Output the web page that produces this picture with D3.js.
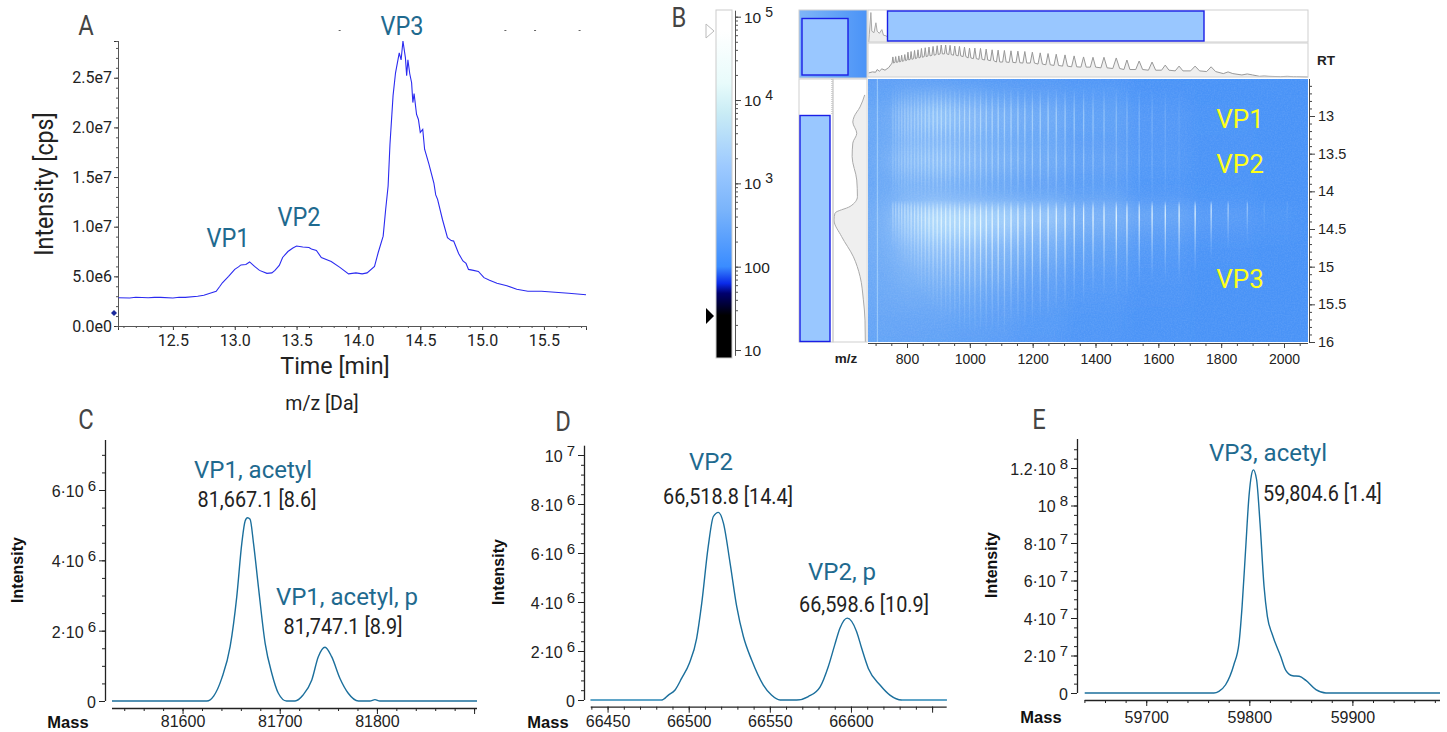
<!DOCTYPE html>
<html>
<head>
<meta charset="utf-8">
<script src="https://cdn.jsdelivr.net/npm/d3@7"></script>
<style>
  html, body { margin: 0; padding: 0; background: #fff; }
  svg { display: block; }
  .narrow { font-family: Roboto, sans-serif; }
  .plain { font-family: "Liberation Sans", Arial, sans-serif; }
</style>
</head>
<body>
<svg id="fig" width="1447" height="732"></svg>
<script>
// Panel A - total ion chromatogram
const ticTime = [12.06,12.15,12.2,12.3,12.35,12.4,12.5,12.55,12.6,12.7,12.75,12.8,12.85,12.88,12.9,12.95,13.0,13.03,13.05,13.09,13.12,13.16,13.2,13.26,13.3,13.325,13.36,13.387,13.43,13.47,13.5,13.55,13.6,13.62,13.66,13.7,13.78,13.85,13.92,13.98,14.03,14.07,14.13,14.16,14.2,14.22,14.24,14.255,14.28,14.3,14.33,14.345,14.36,14.38,14.39,14.40,14.415,14.43,14.44,14.45,14.47,14.485,14.5,14.52,14.535,14.57,14.61,14.625,14.64,14.68,14.72,14.75,14.77,14.81,14.845,14.87,14.89,14.93,14.97,15.015,15.06,15.12,15.2,15.28,15.37,15.48,15.59,15.7,15.84];
const ticIntensity = [2.85,2.82,2.9,2.85,2.88,2.88,2.82,2.9,2.88,3.0,3.1,3.3,3.5,4.0,4.35,5.0,5.7,5.95,6.15,6.2,6.45,6.0,5.6,5.3,5.35,5.6,6.1,6.9,7.5,7.85,8.05,7.95,7.9,7.75,7.6,6.9,6.5,5.9,5.25,5.35,5.25,5.35,6.0,7.4,9.05,11.7,14.1,18.3,23.2,25.5,27.5,26.8,28.7,27.0,25.2,26.8,25.4,24.5,22.5,23.4,21.3,20.8,19.5,19.8,17.8,16.3,14.4,13.2,12.75,10.7,8.9,8.6,8.55,7.3,6.55,6.3,5.7,5.6,5.5,4.87,4.6,4.3,4.05,3.7,3.5,3.5,3.4,3.3,3.15];
const ticYTicks = [0,5,10,15,20,25];
const ticYLabels = ["0.0e0","5.0e6","1.0e7","1.5e7","2.0e7","2.5e7"];
const ticXTicks = [12.5,13,13.5,14,14.5,15,15.5];
const ticStray = [13.84,15.18,15.42,15.78];

// Panel B - m/z against RT map (0 = plain blue, 1 = white)
const mapRT = [12.5,12.7,13.0,13.3,13.6,13.9,14.15,14.3,14.5,14.8,15.1,15.4,15.7,16];
const mapMz = [680,740,800,900,1000,1100,1200,1400,1600,1800,2000,2080];
const mapCells = [
  [.12,.12,.12,.10,.08,.07,.05,.03,0,0,0,0],
  [.15,.15,.22,.24,.20,.15,.12,.08,.02,0,0,0],
  [.20,.22,.40,.48,.40,.30,.24,.15,.05,.01,0,0],
  [.20,.22,.35,.36,.32,.25,.20,.12,.05,.01,0,0],
  [.20,.28,.42,.46,.38,.30,.24,.16,.06,.01,0,0],
  [.20,.22,.30,.30,.26,.20,.16,.10,.04,.01,0,0],
  [.22,.26,.38,.40,.35,.30,.25,.18,.07,.02,0,0],
  [.24,.34,.56,.70,.68,.62,.54,.36,.22,.10,.04,0],
  [.24,.32,.50,.62,.60,.50,.40,.24,.12,.05,.02,0],
  [.24,.28,.40,.45,.42,.34,.26,.15,.06,.01,0,0],
  [.22,.24,.32,.34,.30,.24,.16,.09,.03,0,0,0],
  [.20,.22,.24,.24,.20,.16,.11,.06,.02,0,0,0],
  [.18,.18,.18,.18,.15,.12,.08,.04,.01,0,0,0],
  [.17,.17,.16,.15,.12,.10,.07,.03,.01,0,0,0]
];
const mzPeaks = [755,764,774,783,793,803,813,824,835,846,858,870,883,896,909,923,937,952,967,983,999,1016,1034,1052,1071,1090,1110,1131,1153,1175,1199,1224,1249,1275,1303,1332,1362,1392,1427,1466,1500,1539,1580,1622,1666,1717,1768,1822,1883,1937,2010];
const peakTop = [59,60,62,64,66,73,75,78,80,84,86,88,90,92,94,94,93,91,90,88,85,85,84,82,80,79,78,77,76,75,73,71,69,67,65,62,59,58,58,56,50,47,44,35,32,32,30,15,9,3,2];
const peakValley = [41,43,44,46,48,50,52,54,56,58,60,62,64,66,68,68,66,64,62,60,56,54,52,50,48,44,44,43,42,41,41,38,36,34,32,30,29,29,27,25,22,22,20,20,18,18,16,10,6,2,1];
const earlyStreak = [.2,.2,.25,.25,.3,.3,.3,.3,.35,.35,.4,.4,.45,.45,.45,.45,.45,.45,.45,.45,.45,.45,.45,.45,.45,.45,.45,.45,.45,.45,.45,.45,.45,.45,.42,.42,.4,.36,.34,.3,.26,.24,.2,.15,.08,0,0,0,0,0,0];
const lateStreak = [.35,.35,.4,.4,.45,.45,.5,.5,.55,.55,.6,.6,.65,.65,.7,.7,.75,.75,.75,.8,.8,.8,.85,.85,.85,.85,.85,.85,.85,.85,.85,.85,.85,.85,.85,.85,.85,.85,.85,.9,.85,.8,.85,.8,.85,.85,.75,.5,.4,.12,.08];
const lateEnd = [14.8,14.8,14.85,14.9,15,15,15.1,15.2,15.3,15.4,15.4,15.5,15.6,15.6,15.7,15.7,15.8,15.8,15.9,15.9,15.9,15.9,15.9,15.9,15.9,15.9,15.9,15.8,15.8,15.8,15.8,15.7,15.7,15.6,15.6,15.5,15.5,15.4,15.4,15.4,15.4,15.3,15.2,15.2,15.2,15.1,14.9,14.8,14.7,14.7,14.6];
const lowMzTrace = [[680,25],[685,95],[688,35],[695,30],[701,62],[705,35],[712,28],[720,40],[725,22],[733,20],[740,15]];
const specTail = [[678,12],[690,15],[700,14],[705,22],[712,17],[720,24],[730,20],[742,28]];
const specEnd = [[2040,1],[2076,0]];
const rtProfileRT = [12.72,12.88,13.01,13.08,13.23,13.36,13.54,13.85,14.07,14.2,14.29,14.38,14.6,14.87,15.13,15.44,15.71,16];
const rtProfileValue = [4,18,36,40,28,40,42,28,26,48,94,97,74,38,18,8,3,2];
const cbStopValue = [8,26,48,63,100,480,1560,7000,16000,69000,120000];
const cbStopColor = ["#000000","#000000","#00006e","#0a2ae8","#3a8cff","#7ab4fb","#9cc9ff","#c9ecf5","#e8fbfb","#ffffff","#ffffff"];
const cbLabels = [[100000,"10","5"],[10000,"10","4"],[1000,"10","3"],[100,"100",""],[10,"10",""]];
const rtTicks = [13,13.5,14,14.5,15,15.5,16];
const mzTicks = [800,1000,1200,1400,1600,1800,2000];

// Panels C, D, E - deconvoluted spectra
const massC = [81527.4,81625,81632,81640.4,81649,81655.8,81661,81664.4,81666.8,81669.5,81673,81678,81685,81691.8,81698.6,81707,81715.8,81724,81733,81739.7,81746.6,81753.4,81762,81770.5,81781,81792.8,81798,81803,81903];
const intensityC = [0,0,.14,.65,1.55,2.97,4.49,5.12,5.21,5.17,4.49,3.26,1.64,.79,.22,0,0,.17,.6,1.26,1.53,1.26,.64,.22,0,0,.04,0,0];
const massD = [66439.6,66483.4,66487.5,66491.6,66495.7,66500.4,66504.9,66508,66512,66515.2,66518.3,66521.4,66525.5,66529.6,66533.7,66538.8,66546,66551,66556.3,66566.5,66573.7,66581,66586,66590,66593.2,66597.7,66603.5,66606.6,66610.7,66617.9,66624,66631.2,66659];
const intensityD = [0,0,.2,.41,.89,1.5,2.52,3.93,6.25,7.49,7.66,7.22,5.59,3.81,2.59,1.63,.61,.2,0,0,.14,.54,1.36,2.25,2.93,3.34,2.79,2.11,1.29,.61,.2,0,0];
const massE = [59640.3,59765.6,59770.5,59777,59785,59790,59793,59796.4,59799.7,59802,59803.9,59807,59810.4,59814.3,59817.5,59822.4,59830.5,59835.4,59842,59848.4,59854.9,59864.6,59874.4,59985];
const intensityE = [0,0,.9,4.4,15.1,26.6,46.2,76.4,105,116,119,114,90.6,56.8,40.9,31.1,19.5,12.1,9.2,8.9,6.7,1.8,0,0];

const svg = d3.select("#fig");
const defs = svg.append("defs");
const tealText = "#1f6a8f";
const tealLine = "#1b6f9c";

function styleAxis(g, color) {
    g.selectAll("path, line").attr("stroke", color).attr("stroke-width", 1);
    g.selectAll("text").attr("fill", "#222");
}

// the reference type is a condensed face, Roboto gets squeezed to its width
function squeeze(sel, k) {
    sel.attr("textLength", sel.node().getComputedTextLength() * k)
        .attr("lengthAdjust", "spacingAndGlyphs");
    return sel;
}

function addText(txt, x, y, size, fill, cls, anchor) {
    return svg.append("text")
        .attr("class", cls)
        .attr("x", x)
        .attr("y", y)
        .attr("font-size", size)
        .attr("fill", fill)
        .attr("text-anchor", anchor || "middle")
        .text(txt);
}

// Panel letters
[["A",86,35],["B",679,27],["C",86,429],["D",563,431],["E",1039,429]].forEach(d => {
    squeeze(addText(d[0], d[1], d[2], 27, "#444", "narrow"), 0.88);
});

// ---------- Panel A ----------
const xA = d3.scaleLinear().domain([12.056, 15.84]).range([118, 586]);
const yA = d3.scaleLinear().domain([0, 28.7]).range([326, 41]);

const axABottom = svg.append("g").attr("transform", "translate(0,326)")
    .call(d3.axisBottom(xA).tickValues(ticXTicks).tickSize(4).tickFormat(d3.format(".1f")));
axABottom.selectAll("text").attr("class", "narrow").attr("font-size", 16).attr("dy", "0.8em");
styleAxis(axABottom, "#333");
const axABottomMinor = svg.append("g").attr("transform", "translate(0,326)")
    .call(d3.axisBottom(xA).tickValues(d3.range(12.1, 15.85, 0.1)).tickSize(2).tickFormat(""));
styleAxis(axABottomMinor, "#555");

const axALeft = svg.append("g").attr("transform", "translate(118,0)")
    .call(d3.axisLeft(yA).tickValues(ticYTicks).tickSize(4).tickFormat((d, i) => ticYLabels[i]));
axALeft.selectAll("text").attr("class", "narrow").attr("font-size", 16).attr("x", -6);
styleAxis(axALeft, "#333");
const axALeftMinor = svg.append("g").attr("transform", "translate(118,0)")
    .call(d3.axisLeft(yA).tickValues(d3.range(0, 28.5, 1)).tickSize(2).tickFormat(""));
styleAxis(axALeftMinor, "#555");

svg.append("path")
    .datum(ticTime.map((t, i) => [t, ticIntensity[i]]))
    .attr("d", d3.line().x(d => xA(d[0])).y(d => yA(d[1])))
    .attr("fill", "none")
    .attr("stroke", "#2b2bf0")
    .attr("stroke-width", 1.1);

svg.append("path")
    .attr("transform", `translate(114,${yA(1.3)})`)
    .attr("d", "M -3 0 L 0 -3 L 3 0 L 0 3 Z")
    .attr("fill", "#1a2a9c");

svg.selectAll(".stray").data(ticStray).enter().append("rect")
    .attr("class", "stray")
    .attr("x", d => xA(d))
    .attr("y", 30)
    .attr("width", 2)
    .attr("height", 1)
    .attr("fill", "#666");

squeeze(addText("VP1", 228, 247, 25, tealText, "narrow"), 0.94);
squeeze(addText("VP2", 299, 226, 25, tealText, "narrow"), 0.94);
squeeze(addText("VP3", 402, 35, 25, tealText, "narrow"), 0.94);
squeeze(addText("Time [min]", 335, 374, 24, "#222", "narrow"), 0.97);
squeeze(addText("m/z [Da]", 322, 410, 19.5, "#222", "narrow"), 1);
squeeze(svg.append("text")
    .attr("class", "narrow")
    .attr("transform", "translate(53,184) rotate(-90)")
    .attr("text-anchor", "middle")
    .attr("font-size", 25)
    .attr("fill", "#222")
    .text("Intensity [cps]"), 0.93);

// ---------- Panel B colour bar ----------
const cbY = d3.scaleLog().domain([10, 100000]).range([350, 16.7]);
const cbTop = 10, cbBottom = 358;
const cbGrad = defs.append("linearGradient")
    .attr("id", "cbGrad")
    .attr("gradientUnits", "userSpaceOnUse")
    .attr("x1", 0).attr("x2", 0)
    .attr("y1", cbBottom).attr("y2", cbTop);
cbStopValue.forEach((v, i) => {
    cbGrad.append("stop")
        .attr("offset", (cbBottom - cbY(v)) / (cbBottom - cbTop))
        .attr("stop-color", cbStopColor[i]);
});
svg.append("rect")
    .attr("x", 716).attr("y", cbTop)
    .attr("width", 16).attr("height", cbBottom - cbTop)
    .attr("fill", "url(#cbGrad)")
    .attr("stroke", "#ccc");

const cbMinor = [];
[10, 100, 1000, 10000].forEach(dec => {
    d3.range(1, 10).forEach(m => cbMinor.push(dec * m));
});
cbMinor.push(100000);
const axCb = svg.append("g").attr("transform", "translate(735,0)")
    .call(d3.axisRight(cbY).tickValues(cbMinor).tickSize(3).tickFormat(""));
styleAxis(axCb, "#555");
const axCbMajor = svg.append("g").attr("transform", "translate(735,0)")
    .call(d3.axisRight(cbY).tickValues(cbLabels.map(d => d[0])).tickSize(6).tickFormat(""));
styleAxis(axCbMajor, "#444");
axCb.select(".domain").attr("d", `M 0.5 ${cbY(8.5)} V ${cbY(100000) - 6}`);
axCbMajor.select(".domain").remove();

cbLabels.forEach(d => {
    const t = addText(d[1], 744, cbY(d[0]) + 6, 15.5, "#222", "plain", "start");
    if (d[2]) {
        t.append("tspan").attr("dx", 4).attr("dy", -6).attr("font-size", 14).text(d[2]);
    }
});

svg.append("path").attr("d", "M 706 24 L 714 31 L 706 38 Z")
    .attr("fill", "#fff").attr("stroke", "#bbb");
svg.append("path").attr("d", "M 706 308 L 714 316 L 706 324 Z").attr("fill", "#000");

// ---------- Panel B map ----------
const xMap = d3.scaleLinear().domain([800, 2000]).range([907, 1284]);
const yMap = d3.scaleLinear().domain([13, 16]).range([116, 342]);
const mapLeft = 868, mapRight = 1308, mapTop = 79, mapBottom = 342;

const mapColor = d3.scaleLinear()
    .domain([0, .2, .4, .6, .8, 1])
    .range(["#4a93f7", "#69a7f6", "#86baf8", "#a5d2fb", "#cdedfc", "#f5fdff"]);

defs.append("clipPath").attr("id", "mapClip").append("rect")
    .attr("x", mapLeft).attr("y", mapTop)
    .attr("width", mapRight - mapLeft).attr("height", mapBottom - mapTop);
defs.append("filter").attr("id", "mapBlur")
    .attr("filterUnits", "userSpaceOnUse")
    .attr("x", mapLeft - 40).attr("y", mapTop - 40).attr("width", 520).attr("height", 340)
    .append("feGaussianBlur").attr("stdDeviation", 8);

// pixel grain of the instrument image
const grain = defs.append("filter").attr("id", "mapGrain")
    .attr("filterUnits", "userSpaceOnUse")
    .attr("x", mapLeft).attr("y", mapTop).attr("width", mapRight - mapLeft).attr("height", mapBottom - mapTop);
grain.append("feTurbulence")
    .attr("type", "fractalNoise").attr("baseFrequency", 0.7).attr("numOctaves", 2).attr("seed", 4);
grain.append("feColorMatrix")
    .attr("values", "0 0 0 0 1  0 0 0 0 1  0 0 0 0 1  0 0 0 0.5 -0.16");

function cellEdges(vals) {
    const mids = vals.slice(1).map((v, i) => (v + vals[i]) / 2);
    return [vals[0] - (vals[1] - vals[0]) * 2].concat(mids, [vals[vals.length - 1] + (vals[vals.length - 1] - vals[vals.length - 2]) * 2]);
}
const rtEdges = cellEdges(mapRT);
const mzEdges = cellEdges(mapMz);
const cells = [];
mapCells.forEach((row, r) => row.forEach((v, c) => cells.push({ r, c, v })));

const mapG = svg.append("g").attr("clip-path", "url(#mapClip)");
mapG.append("rect")
    .attr("x", mapLeft).attr("y", mapTop)
    .attr("width", mapRight - mapLeft).attr("height", mapBottom - mapTop)
    .attr("fill", mapColor(0));
mapG.append("g").attr("filter", "url(#mapBlur)")
    .selectAll("rect").data(cells).enter().append("rect")
    .attr("x", d => xMap(mzEdges[d.c]))
    .attr("y", d => yMap(rtEdges[d.r]))
    .attr("width", d => xMap(mzEdges[d.c + 1]) - xMap(mzEdges[d.c]) + 0.5)
    .attr("height", d => yMap(rtEdges[d.r + 1]) - yMap(rtEdges[d.r]) + 0.5)
    .attr("fill", d => mapColor(d.v));

// streak fades along RT
const earlyGrad = defs.append("linearGradient").attr("id", "earlyGrad").attr("x1", 0).attr("x2", 0).attr("y1", 0).attr("y2", 1);
[[0, 0], [.22, .9], [.36, 1], [.5, .6], [.65, .9], [.8, .6], [1, .05]].forEach(s => {
    earlyGrad.append("stop").attr("offset", s[0]).attr("stop-color", "#e6fbff").attr("stop-opacity", s[1]);
});
const lateGrad = defs.append("linearGradient").attr("id", "lateGrad").attr("x1", 0).attr("x2", 0).attr("y1", 0).attr("y2", 1);
[[0, 0], [.08, .8], [.18, 1], [.4, .65], [.7, .25], [1, 0]].forEach(s => {
    lateGrad.append("stop").attr("offset", s[0]).attr("stop-color", "#f0fdff").attr("stop-opacity", s[1]);
});

const streaks = mzPeaks.map((mz, i) => ({ mz, early: earlyStreak[i], late: lateStreak[i], end: lateEnd[i] }));
mapG.selectAll(".early").data(streaks.filter(d => d.early > 0)).enter().append("rect")
    .attr("class", "early")
    .attr("x", d => xMap(d.mz) - 0.6)
    .attr("y", yMap(12.62))
    .attr("width", 1.3)
    .attr("height", yMap(14.1) - yMap(12.62))
    .attr("fill", "url(#earlyGrad)")
    .attr("opacity", d => d.early);
mapG.selectAll(".late").data(streaks).enter().append("rect")
    .attr("class", "late")
    .attr("x", d => xMap(d.mz) - 0.6)
    .attr("y", yMap(14.12))
    .attr("width", 1.3)
    .attr("height", d => yMap(d.end) - yMap(14.12))
    .attr("fill", "url(#lateGrad)")
    .attr("opacity", d => d.late);
mapG.append("rect")
    .attr("x", xMap(704))
    .attr("y", mapTop)
    .attr("width", 1.2)
    .attr("height", mapBottom - mapTop)
    .attr("fill", "#cfeeff")
    .attr("opacity", .45);
mapG.append("rect")
    .attr("x", mapLeft).attr("y", mapTop)
    .attr("width", mapRight - mapLeft).attr("height", mapBottom - mapTop)
    .attr("filter", "url(#mapGrain)")
    .attr("opacity", .3);

addText("VP1", 1240, 128, 26, "#ffff1a", "narrow");
addText("VP2", 1240, 173, 26, "#ffff1a", "narrow");
addText("VP3", 1240, 288, 26, "#ffff1a", "narrow");

// map axes
const axMz = svg.append("g").attr("transform", `translate(0,${mapBottom + 1})`)
    .call(d3.axisBottom(xMap).tickValues(mzTicks).tickSize(5).tickFormat(d3.format("d")));
axMz.selectAll("text").attr("class", "plain").attr("font-size", 14).attr("dy", "0.9em");
styleAxis(axMz, "#444");
const axMzMinor = svg.append("g").attr("transform", `translate(0,${mapBottom + 1})`)
    .call(d3.axisBottom(xMap).tickValues(d3.range(700, 2070, 50)).tickSize(3).tickFormat(""));
styleAxis(axMzMinor, "#444");
axMz.select(".domain").attr("d", `M ${mapLeft} 0.5 H ${mapRight}`);
axMzMinor.select(".domain").remove();

const axRt = svg.append("g").attr("transform", `translate(${mapRight + 1},0)`)
    .call(d3.axisRight(yMap).tickValues(rtTicks).tickSize(6).tickFormat(d => d));
axRt.selectAll("text").attr("class", "plain").attr("font-size", 14.5).attr("x", 9);
styleAxis(axRt, "#444");
const axRtMinor = svg.append("g").attr("transform", `translate(${mapRight + 1},0)`)
    .call(d3.axisRight(yMap).tickValues(d3.range(12.6, 16, 0.1)).tickSize(3).tickFormat(""));
styleAxis(axRtMinor, "#444");
axRt.select(".domain").attr("d", `M 0.5 ${mapTop} V ${mapBottom}`);
axRtMinor.select(".domain").remove();

addText("m/z", 846, 363, 13.5, "#222", "plain").attr("font-weight", "bold");
addText("RT", 1326, 65, 13.5, "#222", "plain").attr("font-weight", "bold");

// ---------- Panel B side panels ----------
const panelStroke = "#cfcfcf";
function frame(x, y, w, h) {
    return svg.append("rect").attr("x", x).attr("y", y).attr("width", w).attr("height", h)
        .attr("fill", "none").attr("stroke", panelStroke).attr("stroke-width", 1);
}
function selection(x, y, w, h) {
    return svg.append("rect").attr("x", x).attr("y", y).attr("width", w).attr("height", h)
        .attr("fill", "#99c7ff").attr("stroke", "#1a1ee6").attr("stroke-width", 1.4);
}

// overview corner
defs.append("linearGradient").attr("id", "cornerGrad").attr("x1", 0).attr("x2", 1).attr("y1", 0).attr("y2", 0)
    .selectAll("stop").data([["0", "#7fb5f8"], ["1", "#4a93f7"]]).enter().append("stop")
    .attr("offset", d => d[0]).attr("stop-color", d => d[1]);
svg.append("rect").attr("x", 799).attr("y", 10).attr("width", 68).attr("height", 68).attr("fill", "url(#cornerGrad)");
frame(799, 10, 68, 68);
selection(802, 18.5, 46, 56.5);

// upper m/z trace, mostly hidden behind the selection box
const yTrace = d3.scaleLinear().domain([0, 100]).range([42, 11]);
svg.append("path")
    .datum([[678, 0]].concat(lowMzTrace, [[742, 0]]))
    .attr("d", d3.line().x(d => xMap(d[0])).y(d => yTrace(d[1])))
    .attr("fill", "#eee")
    .attr("stroke", "#aaa");
frame(868, 10, 440, 32);
selection(887.5, 11, 316.5, 30);

// lower m/z trace
const ySpec = d3.scaleLinear().domain([0, 100]).range([77, 43]);
const specPts = specTail.slice();
mzPeaks.forEach((mz, i) => {
    const gap = i > 0 ? mz - mzPeaks[i - 1] : 9;
    specPts.push([mz - gap * 0.28, peakValley[i]]);
    specPts.push([mz, peakTop[i]]);
    specPts.push([mz + gap * 0.28, peakValley[i]]);
});
specPts.push(...specEnd);
svg.append("path")
    .datum(specPts)
    .attr("d", d3.area().x(d => xMap(d[0])).y0(77).y1(d => ySpec(d[1])))
    .attr("fill", "#efefef");
svg.append("path")
    .datum(specPts)
    .attr("d", d3.line().x(d => xMap(d[0])).y(d => ySpec(d[1])))
    .attr("fill", "none")
    .attr("stroke", "#999");
frame(868, 43, 440, 34);

// RT side trace
frame(799, 79, 34, 263);
selection(800, 115.5, 30, 226);
svg.append("line").attr("x1", 832).attr("x2", 832).attr("y1", 79).attr("y2", 115)
    .attr("stroke", "#aaa").attr("stroke-dasharray", "1,1");

const xProfile = d3.scaleLinear().domain([0, 100]).range([866, 833]);
const profile = rtProfileRT.map((rt, i) => [rt, rtProfileValue[i]]);
svg.append("path")
    .datum(profile)
    .attr("d", d3.area().curve(d3.curveMonotoneY).y(d => yMap(d[0])).x0(866).x1(d => xProfile(d[1])))
    .attr("fill", "#efefef");
svg.append("path")
    .datum(profile)
    .attr("d", d3.line().curve(d3.curveMonotoneY).y(d => yMap(d[0])).x(d => xProfile(d[1])))
    .attr("fill", "none")
    .attr("stroke", "#aaa");
frame(833, 79, 34, 263);

// ---------- Panels C, D, E ----------
function superLabel(sel, labelFor) {
    sel.each(function(d) {
        const parts = labelFor(d);
        const t = d3.select(this).text(parts[0]);
        if (parts[1]) {
            t.append("tspan").attr("dx", 4).attr("dy", -6).attr("font-size", 15).text(parts[1]);
        }
    });
}

function drawSpectrum(c) {
    const x = d3.scaleLinear().domain(c.xDomain).range(c.xRange);
    const y = d3.scaleLinear().domain([0, c.yUnit]).range([c.y0, c.yAtUnit]);

    const left = svg.append("g").attr("transform", `translate(${c.axisX},0)`)
        .call(d3.axisLeft(y).tickValues(c.yTicks).tickSize(6).tickFormat(""));
    styleAxis(left, "#222");
    left.select(".domain").attr("d", `M 0.5 ${c.y0} V ${c.yTop}`).attr("stroke-width", 1.3);
    left.selectAll(".tick text")
        .attr("class", "plain")
        .attr("font-size", 16)
        .attr("text-anchor", "end")
        .attr("x", -9)
        .attr("dy", "0.4em");
    superLabel(left.selectAll(".tick text"), c.yLabel);

    const leftMinor = svg.append("g").attr("transform", `translate(${c.axisX},0)`)
        .call(d3.axisLeft(y).tickValues(c.yMinor).tickSize(3).tickFormat(""));
    styleAxis(leftMinor, "#222");
    leftMinor.select(".domain").remove();

    const bottom = svg.append("g").attr("transform", `translate(0,${c.axisY})`)
        .call(d3.axisBottom(x).tickValues(c.xTicks).tickSize(6)
            .tickFormat(d => c.xLabels.includes(d) ? d3.format("d")(d) : ""));
    bottom.selectAll("text").attr("class", "plain").attr("font-size", 16).attr("dy", c.labelDy);
    styleAxis(bottom, "#222");
    bottom.select(".domain").attr("d", `M ${c.xRange[0]} 0.5 H ${c.xRange[1]}`).attr("stroke-width", 1.3);
    const bottomMinor = svg.append("g").attr("transform", `translate(0,${c.axisY})`)
        .call(d3.axisBottom(x).tickValues(c.xMinor).tickSize(3).tickFormat(""));
    styleAxis(bottomMinor, "#222");
    bottomMinor.select(".domain").remove();

    svg.append("path")
        .datum(c.mass.map((m, i) => [m, c.values[i]]))
        .attr("d", d3.line().curve(d3.curveMonotoneX).x(d => x(d[0])).y(d => y(d[1])))
        .attr("fill", "none")
        .attr("stroke", tealLine)
        .attr("stroke-width", 1.4);
    if (c.flatColor) {
        svg.append("line")
            .attr("x1", c.xRange[0]).attr("x2", x(c.mass[1]))
            .attr("y1", y(0)).attr("y2", y(0))
            .attr("stroke", c.flatColor).attr("stroke-width", 1.8);
        svg.append("line")
            .attr("x1", x(c.mass[c.mass.length - 2])).attr("x2", c.xRange[1])
            .attr("y1", y(0)).attr("y2", y(0))
            .attr("stroke", c.flatColor).attr("stroke-width", 1.8);
    }

    svg.append("text")
        .attr("class", "plain")
        .attr("transform", `translate(${c.titleX},${c.titleY}) rotate(-90)`)
        .attr("text-anchor", "middle")
        .attr("font-size", 16)
        .attr("font-weight", "bold")
        .attr("fill", "#111")
        .text("Intensity");
    addText("Mass", c.massX, c.massY, 16.5, "#111", "plain").attr("font-weight", "bold");

    c.labels.forEach(l => {
        const isName = l[3] === "name";
        const t = addText(l[0], l[1], l[2], isName ? 24 : 22, isName ? tealText : "#222", "narrow", l[4]);
        if (!isName) squeeze(t, 0.9);
    });
}

drawSpectrum({
    mass: massC, values: intensityC,
    xDomain: [81527.4, 81903], xRange: [112, 477],
    yUnit: 6, y0: 701, yAtUnit: 490, yTop: 440, axisX: 105, axisY: 708,
    yTicks: [0, 2, 4, 6], yMinor: d3.range(0, 7.5, 0.5),
    yLabel: d => d === 0 ? ["0", ""] : [d + "\u00b710", "6"],
    xTicks: [81600, 81700, 81800, 81900], xLabels: [81600, 81700, 81800],
    xMinor: d3.range(81540, 81901, 20), labelDy: "0.62em",
    titleX: 23, titleY: 570, massX: 68, massY: 728,
    labels: [
        ["VP1, acetyl", 253, 478, "name"],
        ["81,667.1 [8.6]", 257, 507, "value"],
        ["VP1, acetyl, p", 347, 605, "name"],
        ["81,747.1 [8.9]", 343, 634, "value"]
    ]
});

drawSpectrum({
    mass: massD, values: intensityD, flatColor: "#5fa5c8",
    xDomain: [66439.6, 66659], xRange: [590.7, 946.7],
    yUnit: 10, y0: 700, yAtUnit: 455, yTop: 445.7, axisX: 584, axisY: 706.7,
    yTicks: [0, 2, 4, 6, 8, 10], yMinor: d3.range(0, 10.1, 0.4),
    yLabel: d => d === 0 ? ["0", ""] : d === 10 ? ["10", "7"] : [d + "\u00b710", "6"],
    xTicks: [66450, 66500, 66550, 66600, 66650], xLabels: [66450, 66500, 66550, 66600],
    xMinor: d3.range(66440, 66660, 10), labelDy: "0.68em",
    titleX: 504, titleY: 572, massX: 548, massY: 728,
    labels: [
        ["VP2", 711, 470, "name"],
        ["66,518.8 [14.4]", 728, 504, "value"],
        ["VP2, p", 842, 580, "name"],
        ["66,598.6 [10.9]", 864, 612, "value"]
    ]
});

drawSpectrum({
    mass: massE, values: intensityE,
    xDomain: [59640.3, 59985], xRange: [1084.7, 1440],
    yUnit: 120, y0: 693, yAtUnit: 468, yTop: 439, axisX: 1077, axisY: 700,
    yTicks: [0, 20, 40, 60, 80, 100, 120], yMinor: d3.range(0, 135, 5),
    yLabel: d => d === 0 ? ["0", ""] : d === 100 ? ["10", "8"] : d === 120 ? ["1.2\u00b710", "8"] : [(d / 10) + "\u00b710", "7"],
    xTicks: [59700, 59800, 59900], xLabels: [59700, 59800, 59900],
    xMinor: d3.range(59640, 59985, 20), labelDy: "0.85em",
    titleX: 997, titleY: 565, massX: 1041, massY: 723,
    labels: [
        ["VP3, acetyl", 1268, 461, "name"],
        ["59,804.6 [1.4]", 1263, 501, "value", "start"]
    ]
});
</script>
</body>
</html>
